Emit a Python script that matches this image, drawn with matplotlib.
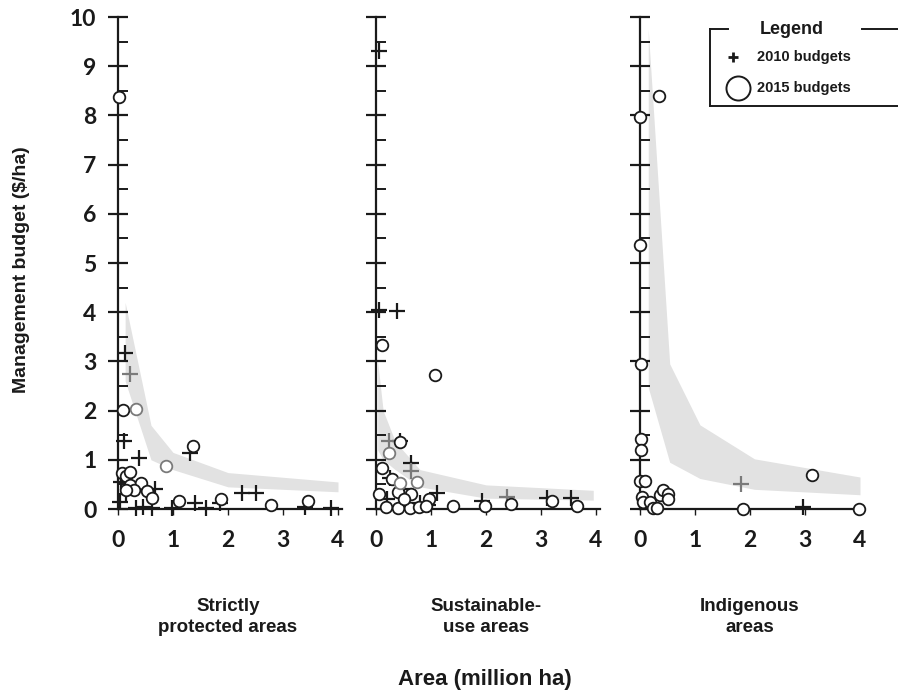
import matplotlib
matplotlib.use("Agg")
import matplotlib.pyplot as plt
from matplotlib.ticker import MultipleLocator

# ---- data ----
panel_titles = ["Strictly\nprotected areas", "Sustainable-\nuse areas", "Indigenous\nareas"]
x_ticks = [0, 1, 2, 3, 4]
y_ticks = [0, 1, 2, 3, 4, 5, 6, 7, 8, 9, 10]

# grey band (range) per panel
band_x = [
    [0.13, 0.6, 1.0, 2.0, 4.0],
    [0.03, 0.13, 0.35, 0.8, 2.0, 3.95],
    [0.15, 0.54, 1.09, 2.08, 4.0],
]
band_hi = [
    [4.2, 1.7, 1.15, 0.74, 0.55],
    [3.0, 2.0, 1.37, 0.8, 0.49, 0.38],
    [9.75, 2.95, 1.71, 1.02, 0.65],
]
band_lo = [
    [2.6, 1.0, 0.8, 0.45, 0.35],
    [1.2, 1.0, 0.8, 0.45, 0.22, 0.18],
    [2.47, 0.95, 0.62, 0.4, 0.29],
]

# 2010 budgets (+), black
p2010_x = [
    [0.12, 0.10, 0.39, 1.30, 0.68, 0.04, 0.33, 0.46, 0.98, 1.40, 1.85, 2.25, 2.50, 3.40, 3.88, 0.15, 0.62, 1.60, 0.05],
    [0.05, 0.06, 0.38, 0.43, 0.64, 1.10, 1.92, 3.10, 3.54, 0.25, 0.80, 0.50, 0.95, 0.20],
    [2.96],
]
p2010_y = [
    [3.17, 1.39, 1.03, 1.14, 0.40, 0.15, 0.02, 0.04, 0.02, 0.12, 0.12, 0.32, 0.32, 0.05, 0.02, 0.30, 0.02, 0.02, 0.55],
    [9.30, 4.05, 4.02, 1.39, 0.94, 0.33, 0.17, 0.22, 0.22, 0.63, 0.13, 0.40, 0.08, 0.20],
    [0.05],
]
# 2010 budgets (+), grey
p2010g_x = [[0.22], [0.23, 0.63, 2.38], [1.84]]
p2010g_y = [[2.75], [1.39, 0.78, 0.24], [0.51]]

# 2015 budgets (o), black
p2015_x = [
    [0.02, 0.09, 1.36, 0.08, 0.14, 0.21, 0.21, 0.42, 0.29, 0.15, 0.52, 0.62, 1.10, 1.88, 2.79, 3.45],
    [0.10, 1.07, 0.43, 0.10, 0.29, 0.06, 0.40, 0.64, 0.96, 0.18, 0.40, 0.61, 0.79, 0.90, 1.40, 1.98, 2.46, 3.20, 3.65, 0.50],
    [0.35, 0.00, 0.00, 0.02, 0.02, 0.02, 0.00, 0.09, 0.03, 0.06, 0.18, 0.24, 0.30, 0.36, 0.41, 0.51, 0.50, 1.87, 3.13, 3.98],
]
p2015_y = [
    [8.37, 2.02, 1.28, 0.74, 0.67, 0.76, 0.49, 0.52, 0.38, 0.38, 0.36, 0.23, 0.16, 0.21, 0.09, 0.16],
    [3.33, 2.73, 1.37, 0.84, 0.60, 0.31, 0.35, 0.31, 0.20, 0.04, 0.02, 0.02, 0.04, 0.06, 0.06, 0.06, 0.10, 0.17, 0.06, 0.20],
    [8.40, 7.96, 5.36, 2.95, 1.43, 1.19, 0.57, 0.57, 0.24, 0.15, 0.15, 0.02, 0.02, 0.29, 0.39, 0.31, 0.20, 0.01, 0.69, 0.01],
]
# 2015 budgets (o), grey
p2015g_x = [[0.33, 0.87], [0.24, 0.44, 0.75], []]
p2015g_y = [[2.04, 0.88], [1.13, 0.53, 0.55], []]

# ---- layout ----
W, H = 898, 694
fig = plt.figure(figsize=(W / 100, H / 100), dpi=100)

tick_font = "Lato"
text_font = ["Liberation Sans", "DejaVu Sans"]

x0_px = [118, 376, 640]
px_per_x = 55.0
y0_px, y10_px = 509, 17
xmax = 4.08

band_col = "#e2e2e2"
grey = "#7a7a7a"

for i in range(3):
    left = x0_px[i] / W
    bottom = (H - y0_px) / H
    width = xmax * px_per_x / W
    height = (y0_px - y10_px) / H
    ax = fig.add_axes([left, bottom, width, height])
    ax.set_xlim(0, xmax)
    ax.set_ylim(0, 10)
    ax.patch.set_alpha(0)

    ax.fill_between(band_x[i], band_lo[i], band_hi[i], color=band_col, lw=0, zorder=1)

    ax.scatter(p2010_x[i], p2010_y[i], marker="+", s=130, c="#1a1a1a",
               linewidths=1.6, zorder=3, clip_on=False)
    ax.scatter(p2010g_x[i], p2010g_y[i], marker="+", s=130, c=grey,
               linewidths=1.6, zorder=3, clip_on=False)
    ax.scatter(p2015_x[i], p2015_y[i], marker="o", s=70, facecolors="white",
               edgecolors="#1a1a1a", linewidths=1.3, zorder=4, clip_on=False)
    if p2015g_x[i]:
        ax.scatter(p2015g_x[i], p2015g_y[i], marker="o", s=70, facecolors="white",
                   edgecolors=grey, linewidths=1.3, zorder=4, clip_on=False)

    for s in ["top", "right"]:
        ax.spines[s].set_visible(False)
    for s in ["left", "bottom"]:
        ax.spines[s].set_linewidth(1.6)
        ax.spines[s].set_color("#1a1a1a")
        ax.spines[s].set_zorder(2)

    ax.set_xticks(x_ticks)
    ax.set_yticks(y_ticks)
    ax.yaxis.set_minor_locator(MultipleLocator(0.5))
    ax.tick_params(axis="y", which="major", direction="inout", length=15,
                   width=1.6, color="#1a1a1a", pad=8)
    ax.tick_params(axis="y", which="minor", direction="in", length=7,
                   width=1.4, color="#1a1a1a")
    ax.tick_params(axis="x", which="major", direction="out", length=4,
                   width=1.0, color="#1a1a1a", pad=11)
    for lab in ax.get_xticklabels() + ax.get_yticklabels():
        lab.set_fontfamily(tick_font)
        lab.set_fontweight("bold")
        lab.set_fontsize(16.5)
        lab.set_color("#1a1a1a")
    if i > 0:
        ax.set_yticklabels([])

    fig.text((x0_px[i] + 2 * px_per_x) / W, 1 - 617 / H, panel_titles[i],
             ha="center", va="center", fontsize=13.5, fontweight="bold",
             family=text_font, color="#1a1a1a", linespacing=1.35)

fig.text(22 / W, 1 - 270 / H, "Management budget ($/ha)", rotation=90,
         ha="center", va="center", fontsize=14, fontweight="bold",
         family=text_font, color="#1a1a1a")
fig.text(485 / W, 1 - 679 / H, "Area (million ha)", ha="center", va="center",
         fontsize=16, fontweight="bold", family=text_font, color="#1a1a1a")

# ---- legend box (open on the right) ----
lg = fig.add_axes([0, 0, 1, 1])
lg.set_xlim(0, W)
lg.set_ylim(H, 0)
lg.axis("off")
lg.plot([710, 728], [29, 29], color="#1a1a1a", lw=1.4)
lg.plot([862, 898], [29, 29], color="#1a1a1a", lw=1.4)
lg.plot([710, 710], [29, 106], color="#1a1a1a", lw=1.4)
lg.plot([710, 898], [106, 106], color="#1a1a1a", lw=1.4)
lg.text(792, 29, "Legend", ha="center", va="center", fontsize=13,
        fontweight="bold", family=text_font, color="#1a1a1a")
lg.scatter([733], [57], marker="+", s=45, c="#1a1a1a", linewidths=2.0)
lg.text(757, 57, "2010 budgets", ha="left", va="center", fontsize=10.5,
        fontweight="bold", family=text_font, color="#1a1a1a")
lg.scatter([738], [88], marker="o", s=300, facecolors="white",
           edgecolors="#1a1a1a", linewidths=1.4)
lg.text(757, 88, "2015 budgets", ha="left", va="center", fontsize=10.5,
        fontweight="bold", family=text_font, color="#1a1a1a")

fig.savefig("out.png", dpi=100)
